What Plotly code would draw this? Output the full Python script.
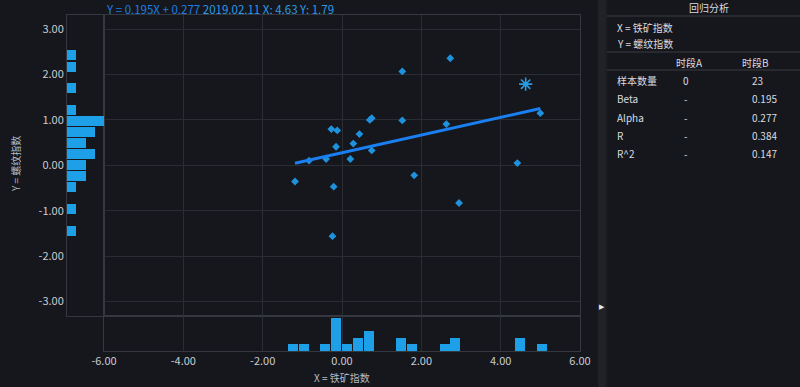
import plotly.graph_objects as go

# ---------------- data ----------------
x_vals = [-1.185, -0.83, -0.40, -0.27, -0.12, -0.15, -0.21, -0.24, 0.21, 0.285, 0.44,
          0.70, 0.75, 0.75, 1.52, 1.52, 1.82, 2.63, 2.73, 2.95, 4.42, 5.00, 4.63]
y_vals = [-0.356, 0.105, 0.14, 0.80, 0.77, 0.41, -0.47, -1.56, 0.14, 0.48, 0.69,
          1.00, 1.04, 0.33, 2.07, 0.99, -0.22, 0.91, 2.36, -0.83, 0.05, 1.15, 1.79]
latest_date = "2019.02.11"

beta = 0.195
alpha = 0.277

# histogram of Y (left) and X (bottom)
y_hist_centers = [2.43, 2.17, 1.70, 1.21, 0.97, 0.73, 0.49, 0.255, 0.01, -0.23, -0.47, -0.96, -1.44]
y_hist_counts = [1, 1, 1, 1, 4, 3, 2, 3, 2, 2, 1, 1, 1]
x_hist_centers = [-1.235, -0.96, -0.43, -0.145, 0.13, 0.405, 0.68, 1.495, 1.77, 2.59, 2.855, 4.495, 5.045]
x_hist_counts = [1, 1, 1, 5, 1, 2, 3, 2, 1, 1, 2, 2, 1]

axis_ticks = [-6, -4, -2, 0, 2, 4, 6]
y_ticks = [-3, -2, -1, 0, 1, 2, 3]

x_name = "X = 铁矿指数"
y_name = "Y = 螺纹指数"
panel_title = "回归分析"
period_headers = ["时段A", "时段B"]
stats_labels = ["样本数量", "Beta", "Alpha", "R", "R^2"]
period_a = ["0", "-", "-", "-", "-"]
period_b = ["23", "0.195", "0.277", "0.384", "0.147"]

# ---------------- style ----------------
W, H = 800, 387
BG = "#15171c"
GRID = "#2a2d33"
BORDER = "#35383e"
TXT = "#c9cdd3"
PANEL_TXT = "#d8dce0"
PT = "#1e92dc"
BAR = "#1ea0e8"
LINE = "#1a7ff0"
FONT = "Noto Sans CJK SC, Microsoft YaHei, sans-serif"


def fx(p):
    return p / W


def fy(p):
    return 1 - p / H


main_x_dom = [fx(104), fx(580)]
main_y_dom = [fy(316), fy(14.7)]
left_x_dom = [fx(67), fx(104)]
bot_y_dom = [fy(351), fy(316)]
y_range = [-3.32, 3.32]

fig = go.Figure()

# scatter points (all except latest)
fig.add_trace(go.Scatter(
    x=x_vals[:-1], y=y_vals[:-1], mode="markers",
    marker=dict(symbol="diamond", size=6, color=PT),
    xaxis="x", yaxis="y", hoverinfo="skip"))

# regression line
x_lo, x_hi = min(x_vals), max(x_vals)
fig.add_trace(go.Scatter(
    x=[x_lo, x_hi], y=[alpha + beta * x_lo, alpha + beta * x_hi], mode="lines",
    line=dict(color=LINE, width=3), xaxis="x", yaxis="y", hoverinfo="skip"))

# latest point
fig.add_trace(go.Scatter(
    x=[x_vals[-1]], y=[y_vals[-1]], mode="markers",
    marker=dict(symbol="asterisk-open", size=11, color="#2a9ae4", line=dict(width=1.6, color="#2a9ae4")),
    xaxis="x", yaxis="y", hoverinfo="skip"))

# left histogram (Y)
fig.add_trace(go.Bar(
    y=y_hist_centers, x=y_hist_counts, orientation="h", width=0.22,
    marker=dict(color=BAR, line=dict(width=0)), xaxis="x2", yaxis="y2", hoverinfo="skip"))

# bottom histogram (X)
fig.add_trace(go.Bar(
    x=x_hist_centers, y=x_hist_counts, width=0.25,
    marker=dict(color=BAR, line=dict(width=0)), xaxis="x3", yaxis="y3", hoverinfo="skip"))

common_line = dict(showline=True, mirror=True, linecolor=BORDER, linewidth=1, zeroline=False,
                   automargin=False)

fig.update_layout(
    width=W, height=H, autosize=False,
    margin=dict(l=0, r=0, t=0, b=0, pad=0),
    paper_bgcolor=BG, plot_bgcolor=BG,
    showlegend=False,
    font=dict(family=FONT, color=TXT, size=11),
    xaxis=dict(domain=main_x_dom, range=[-6, 6], anchor="y", tickvals=axis_ticks,
               showticklabels=False, showgrid=True, gridcolor=GRID, ticks="", **common_line),
    yaxis=dict(domain=main_y_dom, range=y_range, anchor="x", tickvals=y_ticks,
               showticklabels=False, showgrid=True, gridcolor=GRID, ticks="", **common_line),
    xaxis2=dict(domain=left_x_dom, range=[0, 4], anchor="y2", showticklabels=False,
                showgrid=False, ticks="", **common_line),
    yaxis2=dict(domain=main_y_dom, range=y_range, anchor="x2", tickvals=y_ticks,
                ticktext=[f"{v:.2f}" for v in y_ticks], showgrid=False, ticks="",
                tickfont=dict(size=11, color=TXT, family=FONT), **common_line),
    xaxis3=dict(domain=main_x_dom, range=[-6, 6], anchor="y3", tickvals=axis_ticks,
                ticktext=[f"{v:.2f}" for v in axis_ticks], showgrid=True, gridcolor=GRID,
                ticks="", tickfont=dict(size=11, color=TXT, family=FONT), **common_line),
    yaxis3=dict(domain=bot_y_dom, range=[0, 5.25], anchor="x3", showticklabels=False,
                showgrid=False, ticks="", **common_line),
    bargap=0,
)

shapes = []
# splitter strip
shapes.append(dict(type="rect", xref="paper", yref="paper", x0=fx(598), x1=fx(606), y0=0, y1=1,
                   fillcolor="#202227", line=dict(width=0), layer="below"))
shapes.append(dict(type="line", xref="paper", yref="paper", x0=fx(607), x1=fx(607), y0=0, y1=1,
                   line=dict(color="#1d1f24", width=1)))
for py in (16, 52, 70):
    shapes.append(dict(type="line", xref="paper", yref="paper", x0=fx(607), x1=1, y0=fy(py), y1=fy(py),
                       line=dict(color="#3a3d43", width=1)))
fig.update_layout(shapes=shapes)


def text_ann(px, py, txt, anchor="left", size=10, color=PANEL_TXT, **kw):
    return dict(x=fx(px), y=fy(py), xref="paper", yref="paper", xanchor=anchor, yanchor="middle",
                showarrow=False, text=txt, font=dict(size=size, color=color, family=FONT), **kw)


ann = []
# top formula text
ann.append(dict(
    x=fx(105), y=1, xref="paper", yref="paper", xanchor="left", yanchor="top", showarrow=False,
    borderpad=0,
    text=(f'<span style="color:#1d7fe6">Y = {beta:.3f}X + {alpha:.3f}</span> '
          f'<span style="color:#2d9ae6">{latest_date} X: {x_vals[-1]:.2f} Y: {y_vals[-1]:.2f}</span>'),
    font=dict(size=11.5, family=FONT)))
# axis titles
ann.append(text_ann(342, 377, x_name, anchor="center", size=10, color="#b8bcc2"))
ann.append(text_ann(15, 164, y_name, anchor="center", size=10, color="#b8bcc2", textangle=-90))
# splitter arrow
ann.append(dict(x=fx(602), y=fy(307), xref="paper", yref="paper", xanchor="center", yanchor="middle",
                showarrow=False, text="▶", font=dict(size=7, color="#e8e8e8", family="DejaVu Sans")))
# right panel
ann.append(text_ann(709, 8, panel_title, anchor="center"))
ann.append(text_ann(615, 27, x_name))
ann.append(text_ann(615, 43, y_name))
for hx, h in zip((689, 755), period_headers):
    ann.append(text_ann(hx, 62.5, h, anchor="center"))
for i, (lab, a, b) in enumerate(zip(stats_labels, period_a, period_b)):
    py = 80.7 + i * 18.15
    ann.append(text_ann(615, py, lab))
    ann.append(text_ann(686, py, a, anchor="center"))
    ann.append(text_ann(750, py, b))
fig.update_layout(annotations=ann)

fig.write_html(
    "out.html",
    config={"displayModeBar": False, "staticPlot": True},
    post_script="document.body.style.margin='0';document.body.style.padding='0';"
                "document.body.style.overflow='hidden';document.body.style.background='#15171c';",
)
